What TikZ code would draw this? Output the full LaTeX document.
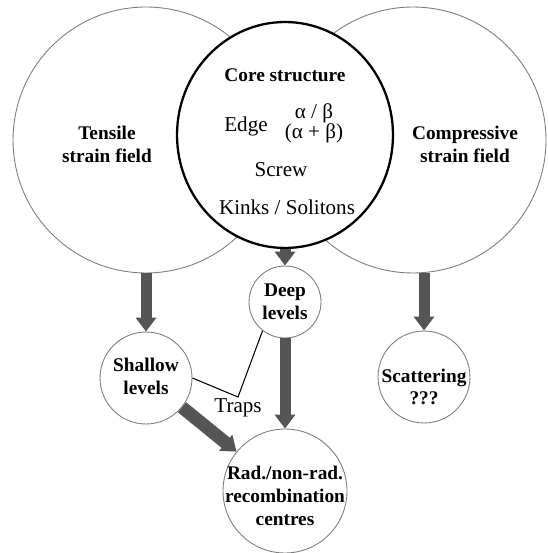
\documentclass[tikz,border=0pt]{standalone}
\usepackage{fontspec}
\setmainfont{Liberation Serif}
\usetikzlibrary{shapes.geometric, arrows.meta, positioning}
\definecolor{arrowgray}{RGB}{85,85,85}
\definecolor{rimgray}{RGB}{125,125,125}

\tikzset{
    field/.style={circle, draw=rimgray, line width=0.5pt, fill=white, minimum size=5.32cm, inner sep=0pt},
    level/.style={circle, draw=rimgray, line width=0.5pt, fill=white, inner sep=0pt},
    boldtext/.style={font=\fontsize{11}{13}\selectfont\bfseries, align=center, inner sep=0pt},
    plaintext/.style={font=\fontsize{12}{14}\selectfont, align=center, inner sep=0pt},
    fatarrow/.style={draw=arrowgray, line width=0.22cm, -{Triangle[width=0.4cm, length=0.28cm]}},
}

\begin{document}
\begin{tikzpicture}[x=0.02cm, y=-0.02cm]
    \useasboundingbox (0,0) rectangle (547,553);

    % Strain fields
    \node[field] (tensile) at (146,140) {};
    \node[field] (compressive) at (413,140) {};
    \node[boldtext] (tensiletext) at (107,144) {Tensile\\strain field};
    \node[boldtext] (compressivetext) at (465,144) {Compressive\\strain field};

    % Core
    \node[ellipse, draw=black, line width=1.3pt, fill=white, minimum width=4.32cm, minimum height=4.52cm] (core) at (285,135) {};
    \node[boldtext] (coretitle) at (285,75) {Core structure};
    \node[plaintext] (edge) at (246,126) {Edge};
    \node[plaintext, font=\fontsize{12}{11.5}\selectfont] (burgers) at (314,123) {α / β\\(α + β)};
    \node[plaintext] (screw) at (281,170) {Screw};
    \node[plaintext] (kinks) at (287,207) {Kinks / Solitons};

    % Levels
    \node[level, minimum size=1.84cm] (shallow) at (146,378) {};
    \node[level, minimum size=1.44cm] (deep) at (285,302) {};
    \node[level, minimum size=1.84cm] (scatter) at (424,377) {};
    \node[level, minimum size=2.48cm] (recomb) at (285,491) {};
    \node[boldtext] (shallowtext) at (146,376) {Shallow\\levels};
    \node[boldtext] (deeptext) at (285,302) {Deep\\levels};
    \node[boldtext] (scattertext) at (424,387) {Scattering\\???};
    \node[boldtext] (recombtext) at (285,496) {Rad./non-rad.\\recombination\\centres};

    % Arrows
    \draw[fatarrow] (tensile.south) -- (shallow.north);
    \draw[fatarrow] (compressive.south -| scatter.north) -- (scatter.north);
    \draw[fatarrow] (core.south) -- (deep.north);
    \draw[fatarrow] (deep.south) -- (recomb.north);
    \draw[fatarrow, line width=0.26cm] (shallow) -- (recomb);

    % Traps
    \coordinate (trapjoin) at (238,397);
    \node[plaintext, below=1pt of trapjoin] (traps) {Traps};
    \draw[line width=0.6pt] (shallow.east) -- (trapjoin) -- (deep.-128);
\end{tikzpicture}
\end{document}
